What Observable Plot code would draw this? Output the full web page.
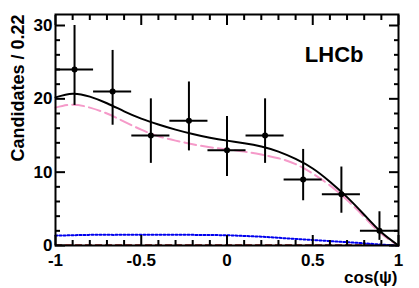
<!DOCTYPE html>
<html><head><meta charset="utf-8">
<script src="https://cdn.jsdelivr.net/npm/d3@7"></script>
<script src="https://cdn.jsdelivr.net/npm/@observablehq/plot@0.6"></script>
<style>body{margin:0;background:#fff}</style>
</head><body><div id="chart"></div>
<script>
// Data points (bin centres, counts, asymmetric Poisson errors)
const binCenters = [-0.889, -0.667, -0.444, -0.222, 0, 0.222, 0.444, 0.667, 0.889];
const counts     = [24, 21, 15, 17, 13, 15, 9, 7, 2];
const errLow     = [4.9, 4.6, 3.8, 4.1, 3.6, 3.8, 2.9, 2.6, 1.3];
const errHigh    = [6.0, 5.6, 5.0, 5.3, 4.6, 5.0, 4.1, 3.7, 2.6];
const binWidth   = 0.222;

// Fit curves
const curveX     = [-1, -0.9, -0.8, -0.7, -0.6, -0.5, -0.4, -0.3, -0.2, -0.1, 0, 0.1, 0.2, 0.3, 0.4, 0.5, 0.6, 0.7, 0.8, 0.9, 1];
const totalFit   = [20.2, 20.7, 20.3, 19.4, 18.3, 17.3, 16.5, 15.8, 15.2, 14.7, 14.3, 13.95, 13.5, 12.8, 11.8, 10.5, 8.7, 6.6, 4.2, 1.8, 0];
const signalFit  = [18.8, 19.2, 18.8, 18.0, 16.9, 15.8, 14.9, 14.3, 13.8, 13.4, 13.1, 12.8, 12.4, 11.9, 11.1, 9.8, 8.2, 6.2, 3.9, 1.6, 0];
const combBkg    = [1.35, 1.4, 1.45, 1.45, 1.45, 1.45, 1.45, 1.45, 1.45, 1.42, 1.4, 1.3, 1.2, 1.05, 0.9, 0.75, 0.6, 0.45, 0.3, 0.12, 0];
const otherBkg   = [0.08, 0.08, 0.08, 0.08, 0.08, 0.08, 0.08, 0.08, 0.08, 0.08, 0.08, 0.08, 0.08, 0.08, 0.08, 0.08, 0.08, 0.08, 0.08, 0.06, 0];

// Axis ticks and labels
const xMajor = [-1, -0.5, 0, 0.5, 1];
const xMinor = [-0.9, -0.8, -0.7, -0.6, -0.4, -0.3, -0.2, -0.1, 0.1, 0.2, 0.3, 0.4, 0.6, 0.7, 0.8, 0.9];
const yMajor = [0, 10, 20, 30];
const yMinor = [2, 4, 6, 8, 12, 14, 16, 18, 22, 24, 26, 28];
const xTitle = "cos(\u03C8)";
const yTitle = "Candidates / 0.22";
const tag = "LHCb";

const points = binCenters.map((x, i) => ({x, n: counts[i], lo: counts[i] - errLow[i], hi: counts[i] + errHigh[i], x1: x - binWidth / 2, x2: x + binWidth / 2}));
const curve = (ys) => curveX.map((x, i) => ({x, y: ys[i]}));

const FONT = "'Liberation Sans', Arial, Helvetica, sans-serif";

const tickMarks = (ticks, size, sw) => [
  Plot.axisX(ticks, {anchor: "bottom", tickSize: size, dy: -size, fill: "none", label: null, strokeWidth: sw}),
  Plot.axisX(ticks, {anchor: "top", tickSize: size, dy: size, fill: "none", label: null, strokeWidth: sw})
];
const tickMarksY = (ticks, size, sw) => [
  Plot.axisY(ticks, {anchor: "left", tickSize: size, dx: size, fill: "none", label: null, strokeWidth: sw}),
  Plot.axisY(ticks, {anchor: "right", tickSize: size, dx: -size, fill: "none", label: null, strokeWidth: sw})
];

const chart = Plot.plot({
  width: 419,
  height: 288,
  marginLeft: 55,
  marginRight: 21,
  marginTop: 14,
  marginBottom: 43,
  style: {fontFamily: FONT, fontSize: "17px", fontWeight: "bold", background: "#fff", color: "#000"},
  x: {domain: [-1, 1]},
  y: {domain: [0, 31.5]},
  marks: [
    // fit components
    Plot.line(curve(otherBkg), {x: "x", y: "y", stroke: "#8b0000", strokeWidth: 1.5, strokeDasharray: "6,4", curve: "natural"}),
    Plot.line(curve(combBkg), {x: "x", y: "y", stroke: "#0000ee", strokeWidth: 2, strokeDasharray: "2,2", curve: "natural"}),
    Plot.line(curve(signalFit), {x: "x", y: "y", stroke: "#f59ac9", strokeWidth: 2, strokeDasharray: "12,5", curve: "natural"}),
    Plot.line(curve(totalFit), {x: "x", y: "y", stroke: "#000", strokeWidth: 2, curve: "natural"}),
    // data
    Plot.ruleX(points, {x: "x", y1: "lo", y2: "hi", stroke: "#000", strokeWidth: 2}),
    Plot.ruleY(points, {y: "n", x1: "x1", x2: "x2", stroke: "#000", strokeWidth: 2}),
    Plot.dot(points, {x: "x", y: "n", r: 3, fill: "#000", stroke: null}),
    // frame and ticks
    Plot.frame({stroke: "#000", strokeWidth: 2}),
    ...tickMarks(xMajor, 10, 2),
    ...tickMarks(xMinor, 5, 2),
    ...tickMarksY(yMajor, 10, 2),
    ...tickMarksY(yMinor, 5, 2),
    // tick labels
    Plot.axisX(xMajor, {anchor: "bottom", tickSize: 0, tickPadding: 8, stroke: "none", label: null, tickFormat: (d) => String(d)}),
    Plot.axisY(yMajor, {anchor: "left", tickSize: 0, tickPadding: 3, stroke: "none", label: null, tickFormat: (d) => String(d)}),
    // titles
    Plot.text([xTitle], {frameAnchor: "bottom-right", text: (d) => d, textAnchor: "end", lineAnchor: "middle", dy: 32, dx: -1, fontSize: 17, fontWeight: "bold"}),
    Plot.text([yTitle], {frameAnchor: "top-left", text: (d) => d, textAnchor: "end", lineAnchor: "middle", rotate: -90, dx: -37, dy: 0, fontSize: 18, fontWeight: "bold"}),
    Plot.text([tag], {frameAnchor: "top-right", text: (d) => d, textAnchor: "end", lineAnchor: "middle", dx: -35, dy: 40, fontSize: 22, fontWeight: "bold"})
  ]
});
document.getElementById("chart").appendChild(chart);
</script>
</body></html>
